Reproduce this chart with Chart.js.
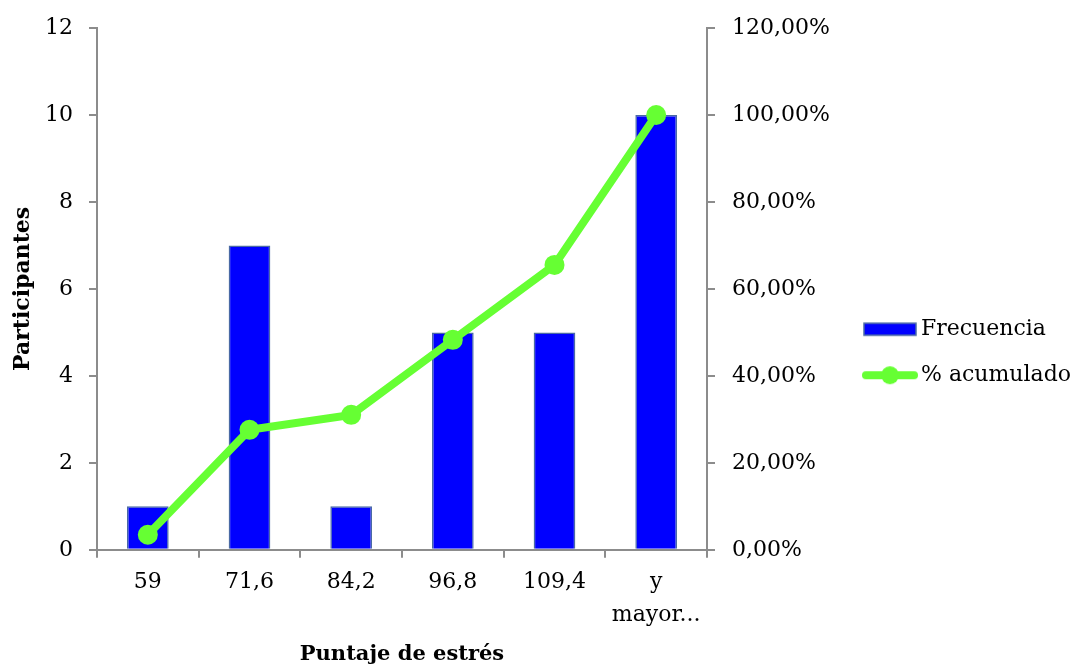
<!DOCTYPE html>
<html>
<head>
<meta charset="utf-8">
<script src="https://cdn.jsdelivr.net/npm/chart.js@4/dist/chart.umd.min.js"></script>
<style>
  body { margin: 0; background: #fff; }
  #wrap { width: 1079px; height: 667px; }
</style>
</head>
<body>
<div id="wrap"><canvas id="histo" width="1079" height="667"></canvas></div>
<script>
// categories and series
const categorias = ['59', '71,6', '84,2', '96,8', '109,4', ['y', 'mayor...']];
const frecuencia = [1, 7, 1, 5, 5, 10];
const acumulado = [3.45, 27.59, 31.03, 48.28, 65.52, 100];

const azul = '#0000ff';
const verde = '#66ff33';
const gris = '#8c8c8c';
const borde = '#4a6aa5';
const fuente = "'DejaVu Serif', 'Liberation Serif', serif";

// small canvas icons for the legend
function iconoBarra() {
    const c = document.createElement('canvas');
    c.width = 54; c.height = 16;
    const g = c.getContext('2d');
    g.fillStyle = azul;
    g.fillRect(1, 2, 52, 12);
    g.strokeStyle = borde;
    g.lineWidth = 1.5;
    g.strokeRect(1, 2, 52, 12);
    return c;
}
function iconoLinea() {
    const c = document.createElement('canvas');
    c.width = 56; c.height = 22;
    const g = c.getContext('2d');
    g.strokeStyle = verde;
    g.lineWidth = 8;
    g.lineCap = 'round';
    g.beginPath(); g.moveTo(4, 11); g.lineTo(52, 11); g.stroke();
    g.fillStyle = verde;
    g.beginPath(); g.arc(28, 11, 9, 0, Math.PI * 2); g.fill();
    return c;
}

window.onload = function() {
    new Chart(document.getElementById('histo'), {
        data: {
            labels: categorias,
            datasets: [{
                type: 'line',
                label: '% acumulado',
                data: acumulado,
                yAxisID: 'y1',
                borderColor: verde,
                backgroundColor: verde,
                borderWidth: 8,
                pointRadius: 10,
                pointBackgroundColor: verde,
                pointBorderWidth: 0,
                tension: 0,
                order: 0
            }, {
                type: 'bar',
                label: 'Frecuencia',
                data: frecuencia,
                yAxisID: 'y',
                backgroundColor: azul,
                borderColor: borde,
                borderWidth: 1.5,
                barPercentage: 0.41,
                categoryPercentage: 1,
                order: 1
            }]
        },
        options: {
            responsive: false,
            animation: false,
            devicePixelRatio: 1,
            layout: { padding: { top: 27, right: 4, bottom: 0, left: 10 } },
            plugins: {
                tooltip: { enabled: false },
                legend: {
                    position: 'right',
                    maxWidth: 229,
                    title: { display: true, text: ' ', font: { size: 2 }, padding: 4 },
                    labels: {
                        usePointStyle: true,
                        pointStyleWidth: 40,
                        padding: 24,
                        color: '#000',
                        font: { family: fuente, size: 22 },
                        generateLabels: function() {
                            return [
                                { text: 'Frecuencia', pointStyle: iconoBarra(), datasetIndex: 1, fontColor: '#000' },
                                { text: '% acumulado', pointStyle: iconoLinea(), datasetIndex: 0, fontColor: '#000' }
                            ];
                        }
                    }
                }
            },
            scales: {
                x: {
                    grid: { display: true, drawOnChartArea: false, offset: true, tickLength: 8, color: gris, tickColor: gris, lineWidth: 2 },
                    border: { color: gris, width: 2 },
                    ticks: { color: '#000', font: { family: fuente, size: 22, lineHeight: 1.5 }, padding: 8, maxRotation: 0 },
                    title: { display: true, text: 'Puntaje de estrés', color: '#000', font: { family: fuente, size: 21, weight: 'bold' }, padding: { top: 2, bottom: 0 } }
                },
                y: {
                    position: 'left',
                    min: 0, max: 12,
                    grid: { display: true, drawOnChartArea: false, tickLength: 8, tickColor: gris, lineWidth: 2 },
                    border: { color: gris, width: 2 },
                    ticks: { stepSize: 2, color: '#000', font: { family: fuente, size: 22, lineHeight: 1 }, padding: 16 },
                    title: { display: true, text: 'Participantes', color: '#000', font: { family: fuente, size: 22, weight: 'bold' }, padding: 0 },
                    afterFit: function(s) { s.width = 87; }
                },
                y1: {
                    position: 'right',
                    min: 0, max: 120,
                    grid: { display: true, drawOnChartArea: false, tickLength: 8, tickColor: gris, lineWidth: 2 },
                    border: { color: gris, width: 2 },
                    ticks: {
                        stepSize: 20, color: '#000', font: { family: fuente, size: 22, lineHeight: 1 }, padding: 17,
                        callback: function(v) { return v.toFixed(2).replace('.', ',') + '%'; }
                    },
                    afterFit: function(s) { s.width = 139; }
                }
            }
        }
    });
};
</script>
</body>
</html>
